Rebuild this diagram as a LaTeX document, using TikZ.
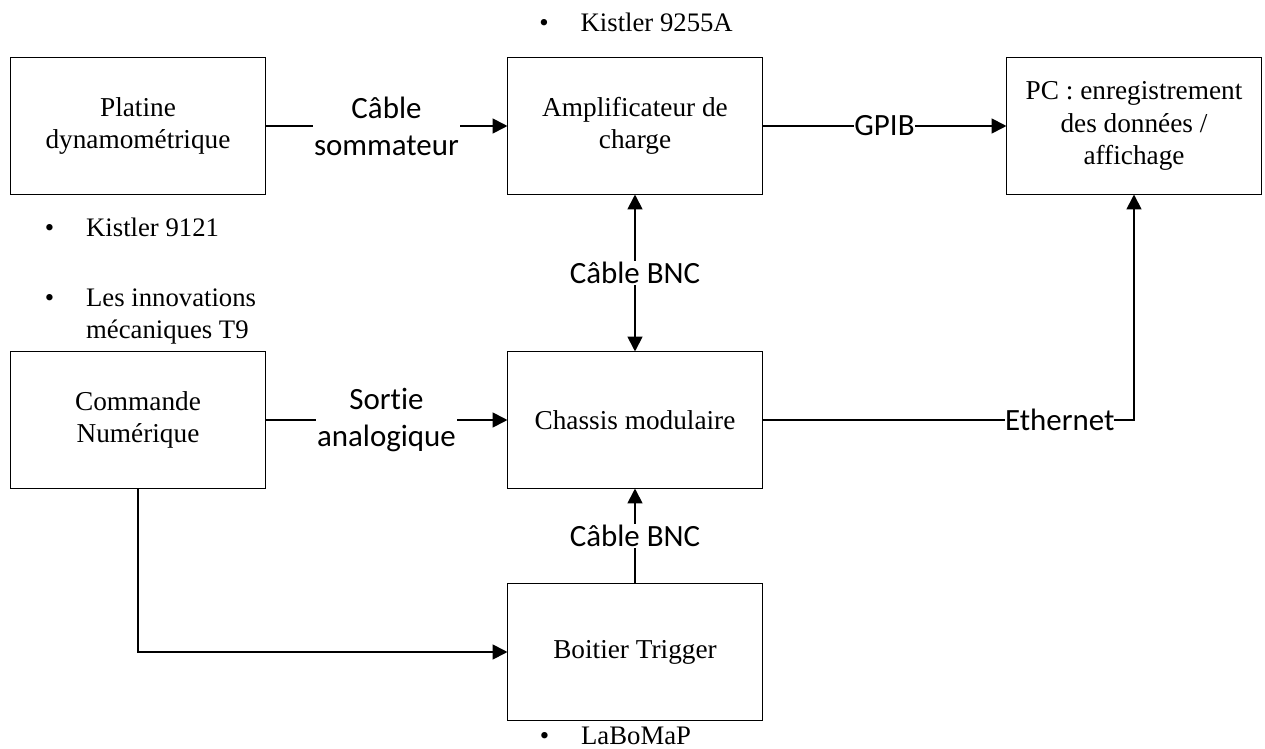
\documentclass[tikz,border=0pt]{standalone}
\usepackage{fontspec}
\setmainfont{Liberation Serif}
\newfontfamily\cabfont[Ligatures=NoCommon]{Carlito}
\usetikzlibrary{arrows.meta,positioning,calc}

\newcommand{\pucetxt}[1]{\begin{tabular}{@{}l@{\hspace{0.8cm}}l@{}}\textbullet & #1\end{tabular}}

\tikzset{
  >={Triangle[length=10.5pt,width=10.5pt]},
  bloc/.style={draw, line width=0.7pt, minimum width=6.35cm, minimum height=3.4cm,
    align=center, font=\fontsize{19.4}{23.2}\selectfont},
  lien/.style={line width=1.3pt, ->},
  cable/.style={fill=white, inner sep=1pt, align=center,
    font=\cabfont\fontsize{22}{26.3}\selectfont},
  puce/.style={anchor=west, inner sep=0pt, font=\fontsize{19}{22.8}\selectfont},
}

\begin{document}
\begin{tikzpicture}[x=0.025cm, y=-0.025cm]
  \useasboundingbox (0,0) rectangle (1265,749);
  \node[bloc] (platine) at (138,126) {Platine\\dynamométrique};
  \node[bloc] (ampli) at (635,126) {Amplificateur de\\charge};
  \node[bloc] (pc) at (1134,126) {PC : enregistrement\\des données /\\affichage};
  \node[bloc] (cn) at (138,420) {Commande\\Numérique};
  \node[bloc] (chassis) at (635,420) {Chassis modulaire};
  \node[bloc] (trigger) at (635,652) {Boitier Trigger};

  \node[puce] (k9255) at (539,25) {\pucetxt{Kistler 9255A}};
  \node[puce] (k9121) at (44.5,230) {\pucetxt{Kistler 9121}};
  \node[puce] (t9) at (44.5,316) {\pucetxt{Les innovations\\ & mécaniques T9}};
  \node[puce] (labo) at (539.5,738) {\pucetxt{LaBoMaP}};

  \draw[lien] (platine) -- node[cable] {Câble\\sommateur} (ampli);
  \draw[lien] (ampli) -- node[cable, inner sep=0pt] {GPIB} (pc);
  \draw[lien, <->] (ampli) -- node[cable] {Câble BNC} (chassis);
  \draw[lien] (cn) -- node[cable] {Sortie\\analogique} (chassis);
  \draw[lien] (chassis) -| node[cable, pos=0.4, inner sep=0pt] {Ethernet} (pc);
  \draw[lien] (trigger) -- node[cable] {Câble BNC} (chassis);
  \draw[lien] (cn) |- (trigger);
\end{tikzpicture}
\end{document}
